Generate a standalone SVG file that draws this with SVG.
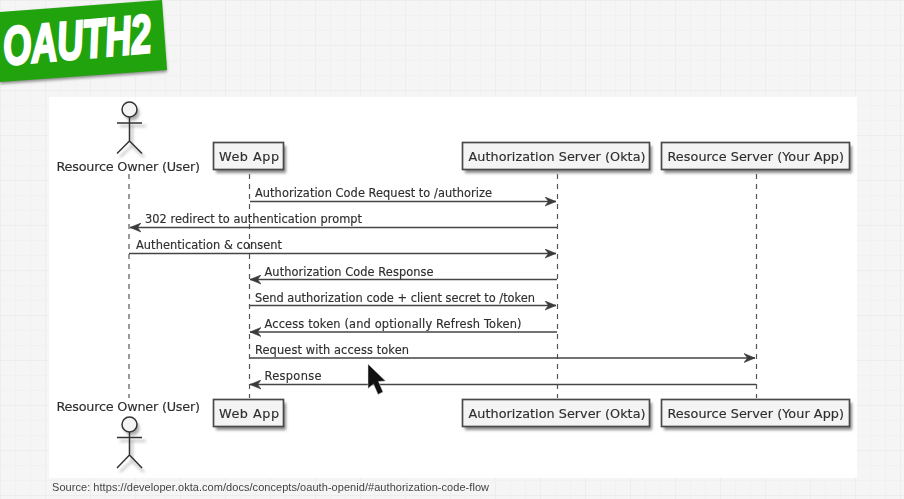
<svg xmlns="http://www.w3.org/2000/svg" width="904" height="499" viewBox="0 0 904 499">
<defs>
<pattern id="grid" width="45" height="45" patternUnits="userSpaceOnUse">
<rect width="45" height="45" fill="#f5f5f5"/>
<path d="M0 .5H45M.5 0V45" stroke="#ededed" fill="none"/>
<path d="M0 15.500H45M0 30.500H45M15.500 0V45M30.500 0V45" stroke="#f1f1f1" fill="none"/>
</pattern>
<filter id="soft" x="-5%" y="-5%" width="110%" height="110%"><feGaussianBlur stdDeviation="0.5"/></filter>
<filter id="sh" x="-30%" y="-30%" width="160%" height="160%"><feGaussianBlur stdDeviation="1.4"/></filter>
<marker id="arr" viewBox="0 0 12 10" refX="11" refY="5" markerWidth="12" markerHeight="10" markerUnits="userSpaceOnUse" orient="auto-start-reverse"><path d="M0 .5L11 5L0 9.500L3.500 5Z" fill="#3a3a3a" stroke="#3a3a3a" stroke-width=".6"/></marker>
</defs>
<style>
text{font-family:"DejaVu Sans","Liberation Sans",sans-serif;fill:#2e2e2e;stroke:#2e2e2e;stroke-width:.15}
.lbl{font-size:11.400px}
.nm{font-size:12.800px}
.box{fill:#f4f4f4;stroke:#4a4a4a;stroke-width:1.700}
.shd{fill:#8a8a8a}
.life{stroke:#555;stroke-width:1.200;stroke-dasharray:5 5;fill:none}
.msg{stroke:#444;stroke-width:1.400;fill:none;marker-end:url(#arr)}
.fig{stroke:#333;stroke-width:1.500;fill:none}
.figs{stroke:#aaa;stroke-width:1.600;fill:none}
</style>
<rect width="904" height="499" fill="url(#grid)"/>
<g id="banner">
<path d="M0 13L161 0L167 71L0 83Z" fill="#8c8c8c" filter="url(#sh)" transform="translate(0 1)"/>
<path d="M0 12L162 0L167 70L0 82Z" fill="#21a30d"/>
<text transform="translate(4.500 65) rotate(-5) scale(.67 1)" style="font-family:'Liberation Sans',sans-serif;font-weight:700;font-style:italic;font-size:54px;fill:#fff;stroke:#fff;stroke-width:2.600">OAUTH2</text>
</g>
<rect id="panel" x="49" y="97" width="808" height="381" fill="#fff"/>
<g filter="url(#soft)">
<g id="lifelines">
<path class="life" d="M129 174V398"/>
<path class="life" d="M249.500 174V398"/>
<path class="life" d="M557.500 174V398"/>
<path class="life" d="M756.500 174V398"/>
</g>
<g id="connectors">
<path class="msg" d="M250 201.500H556"/>
<path class="msg" d="M557 227.500H130"/>
<path class="msg" d="M129 253.500H556"/>
<path class="msg" d="M557 279.500H250"/>
<path class="msg" d="M250 305.500H556"/>
<path class="msg" d="M557 332H250"/>
<path class="msg" d="M250 358H755"/>
<path class="msg" d="M756 384.500H250"/>
<text class="lbl" x="255" y="196.500" textLength="237">Authorization Code Request to /authorize</text>
<text class="lbl" x="145" y="222.500" textLength="217">302 redirect to authentication prompt</text>
<text class="lbl" x="136" y="249" textLength="146">Authentication &amp; consent</text>
<text class="lbl" x="264.500" y="275.500" textLength="169">Authorization Code Response</text>
<text class="lbl" x="255" y="301.500" textLength="280">Send authorization code + client secret to /token</text>
<text class="lbl" x="264.500" y="327.500" textLength="257">Access token (and optionally Refresh Token)</text>
<text class="lbl" x="255" y="353.500" textLength="154">Request with access token</text>
<text class="lbl" x="264.500" y="379.500" textLength="57">Response</text>
</g>
<g id="owner-top">
<circle cx="132" cy="113" r="7.500" fill="#aaa" filter="url(#sh)"/>
<path class="figs" d="M120 126H146M132 124V146L120 157M132 146L144 157" filter="url(#sh)"/>
<circle class="fig" cx="129.500" cy="109.500" r="7.500" style="fill:#f4f4f4"/>
<path class="fig" d="M117 123H142M129.500 117V141L117 153.500M129.500 141L142 153.500"/>
<text class="nm" x="56.500" y="170.500" textLength="143.500">Resource Owner (User)</text>
</g>
<g id="webapp-top">
<rect class="shd" x="216" y="146" width="70" height="27" filter="url(#sh)"/>
<rect class="box" x="213.500" y="142.500" width="70" height="27"/>
<text class="nm" x="219" y="160.500" textLength="60">Web App</text>
</g>
<g id="auth-top">
<rect class="shd" x="465" y="146" width="187" height="27" filter="url(#sh)"/>
<rect class="box" x="462.500" y="142.500" width="187" height="27"/>
<text class="nm" x="468.500" y="160.500" textLength="177">Authorization Server (Okta)</text>
</g>
<g id="resource-top">
<rect class="shd" x="664" y="146" width="188" height="27" filter="url(#sh)"/>
<rect class="box" x="661.500" y="142.500" width="188" height="27"/>
<text class="nm" x="667.500" y="160.500" textLength="176.500">Resource Server (Your App)</text>
</g>
<g id="owner-bottom">
<text class="nm" x="56.500" y="411" textLength="143.500">Resource Owner (User)</text>
<circle cx="132" cy="428" r="7.500" fill="#aaa" filter="url(#sh)"/>
<path class="figs" d="M120 441H146M132 439V461L120 472M132 461L144 472" filter="url(#sh)"/>
<circle class="fig" cx="129.500" cy="424.500" r="7.500" style="fill:#f4f4f4"/>
<path class="fig" d="M117 437.500H142M129.500 432V455L117 468M129.500 455L142 468"/>
</g>
<g id="webapp-bottom">
<rect class="shd" x="216" y="403" width="70" height="27" filter="url(#sh)"/>
<rect class="box" x="213.500" y="399.500" width="70" height="27"/>
<text class="nm" x="219" y="417.500" textLength="60">Web App</text>
</g>
<g id="auth-bottom">
<rect class="shd" x="465" y="403" width="187" height="27" filter="url(#sh)"/>
<rect class="box" x="462.500" y="399.500" width="187" height="27"/>
<text class="nm" x="468.500" y="417.500" textLength="177">Authorization Server (Okta)</text>
</g>
<g id="resource-bottom">
<rect class="shd" x="664" y="403" width="188" height="27" filter="url(#sh)"/>
<rect class="box" x="661.500" y="399.500" width="188" height="27"/>
<text class="nm" x="667.500" y="417.500" textLength="176.500">Resource Server (Your App)</text>
</g>
</g>
<text x="52" y="491" textLength="437" style="font-family:'Liberation Sans',sans-serif;font-size:11px;fill:#444;stroke:none">Source: https://developer.okta.com/docs/concepts/oauth-openid/#authorization-code-flow</text>
<path id="cursor" d="M368 364V388.500L373.500 384L378 394.500L383 392L378.500 381.500L385.500 381Z" fill="#111" stroke="#ddd" stroke-width=".5"/>
</svg>
